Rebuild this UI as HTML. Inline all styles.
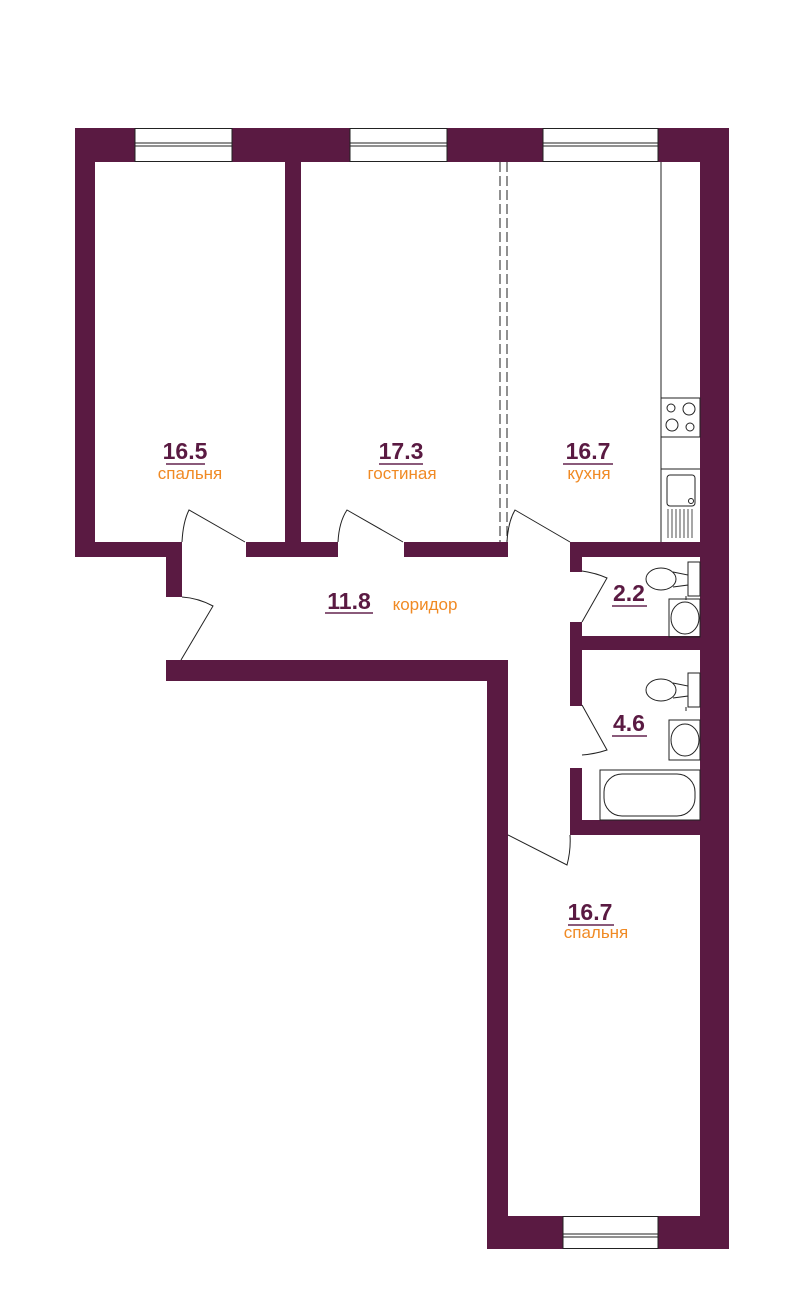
<!DOCTYPE html>
<html><head><meta charset="utf-8"><style>
html,body{margin:0;padding:0;background:#fff;width:800px;height:1302px;overflow:hidden}
svg{display:block}
.n{font-family:"Liberation Sans",sans-serif;font-weight:bold;font-size:23px;fill:#5a1a42;text-anchor:middle}
.l{font-family:"Liberation Sans",sans-serif;font-size:17px;fill:#f08a24;text-anchor:middle}
</style></head><body>
<svg width="800" height="1302" viewBox="0 0 800 1302" xmlns="http://www.w3.org/2000/svg">
<g fill="#5a1a42">
<rect x="75" y="128" width="60" height="34"/>
<rect x="232" y="128" width="118" height="34"/>
<rect x="447" y="128" width="96" height="34"/>
<rect x="658" y="128" width="71" height="34"/>
<rect x="75" y="128" width="20" height="429"/>
<rect x="700" y="128" width="29" height="1121"/>
<rect x="285" y="150" width="16" height="407"/>
<rect x="75" y="542" width="107" height="15"/>
<rect x="166" y="542" width="16" height="55"/>
<rect x="246" y="542" width="92" height="15"/>
<rect x="404" y="542" width="104" height="15"/>
<rect x="570" y="542" width="130" height="15"/>
<rect x="166" y="660" width="342" height="21"/>
<rect x="487" y="660" width="21" height="589"/>
<rect x="570" y="542" width="12" height="30"/>
<rect x="570" y="622" width="12" height="84"/>
<rect x="570" y="636" width="130" height="14"/>
<rect x="570" y="768" width="12" height="67"/>
<rect x="570" y="820" width="130" height="15"/>
<rect x="487" y="1216" width="76" height="33"/>
<rect x="658" y="1216" width="71" height="33"/>
</g>
<g fill="none" stroke="#222" stroke-width="1">
<rect x="135" y="128.5" width="97" height="33"/><line x1="135" y1="143" x2="232" y2="143"/><line x1="135" y1="146" x2="232" y2="146"/>
<rect x="350" y="128.5" width="97" height="33"/><line x1="350" y1="143" x2="447" y2="143"/><line x1="350" y1="146" x2="447" y2="146"/>
<rect x="543" y="128.5" width="115" height="33"/><line x1="543" y1="143" x2="658" y2="143"/><line x1="543" y1="146" x2="658" y2="146"/>
<rect x="563" y="1216.5" width="95" height="32"/><line x1="563" y1="1234" x2="658" y2="1234"/><line x1="563" y1="1237" x2="658" y2="1237"/>
<line x1="500" y1="162" x2="500" y2="542" stroke-dasharray="10,4"/>
<line x1="507" y1="162" x2="507" y2="542" stroke-dasharray="10,4"/>
<line x1="661" y1="162" x2="661" y2="542"/>
<rect x="661" y="398" width="39" height="39"/>
<circle cx="671" cy="408" r="4"/><circle cx="689" cy="409" r="6"/><circle cx="672" cy="425" r="6"/><circle cx="690" cy="427" r="4"/>
<line x1="661" y1="469" x2="700" y2="469"/>
<rect x="667" y="475" width="28" height="31" rx="3"/>
<circle cx="691" cy="501" r="2.5"/>
<g stroke-width="0.8"><line x1="668" y1="509" x2="668" y2="538"/><line x1="672" y1="509" x2="672" y2="538"/><line x1="676" y1="509" x2="676" y2="538"/><line x1="680" y1="509" x2="680" y2="538"/><line x1="684" y1="509" x2="684" y2="538"/><line x1="688" y1="509" x2="688" y2="538"/><line x1="692" y1="509" x2="692" y2="538"/></g>
<path d="M182 542 Q183 522 189 510 L245 542"/>
<path d="M338 542 Q339 522 347 510 L403 542"/>
<path d="M507 542 Q508 522 515 510 L570 542"/>
<path d="M182 597 Q198 598 213 606 L181 660"/>
<path d="M582 571 Q596 573 607 578 L582 622"/>
<path d="M582 705 L607 750 Q595 754 582 755"/>
<path d="M508 835 L567 865 Q571 850 570 835"/>
<ellipse cx="661" cy="579" rx="15" ry="11"/><path d="M673 572 L688 575 L688 585 L673 587"/>
<rect x="688" y="562" width="12" height="34"/><line x1="686" y1="596" x2="686" y2="600"/>
<rect x="669" y="599" width="31" height="38"/><ellipse cx="685" cy="618" rx="14" ry="16"/>
<ellipse cx="661" cy="690" rx="15" ry="11"/><path d="M673 683 L688 686 L688 696 L673 698"/>
<rect x="688" y="673" width="12" height="34"/><line x1="686" y1="707" x2="686" y2="711"/>
<rect x="669" y="720" width="31" height="40"/><ellipse cx="685" cy="740" rx="14" ry="16"/>
<rect x="600" y="770" width="100" height="50"/><rect x="604" y="774" width="91" height="42" rx="18"/>
</g>
<g>
<text class="n" x="185" y="459">16.5</text><line x1="166" y1="464" x2="205" y2="464" stroke="#8a5a7a" stroke-width="2"/>
<text class="l" x="190" y="479">спальня</text>
<text class="n" x="401" y="459">17.3</text><line x1="379" y1="464" x2="423" y2="464" stroke="#8a5a7a" stroke-width="2"/>
<text class="l" x="402" y="479">гостиная</text>
<text class="n" x="588" y="459">16.7</text><line x1="563" y1="464" x2="613" y2="464" stroke="#8a5a7a" stroke-width="2"/>
<text class="l" x="589" y="479">кухня</text>
<text class="n" x="349" y="609">11.8</text><line x1="325" y1="613" x2="373" y2="613" stroke="#8a5a7a" stroke-width="2"/>
<text class="l" x="425" y="610">коридор</text>
<text class="n" x="629" y="601">2.2</text><line x1="612" y1="606" x2="647" y2="606" stroke="#8a5a7a" stroke-width="2"/>
<text class="n" x="629" y="731">4.6</text><line x1="612" y1="736" x2="647" y2="736" stroke="#8a5a7a" stroke-width="2"/>
<text class="n" x="590" y="920">16.7</text><line x1="568" y1="925" x2="614" y2="925" stroke="#8a5a7a" stroke-width="2"/>
<text class="l" x="596" y="938">спальня</text>
</g>
</svg>
</body></html>
